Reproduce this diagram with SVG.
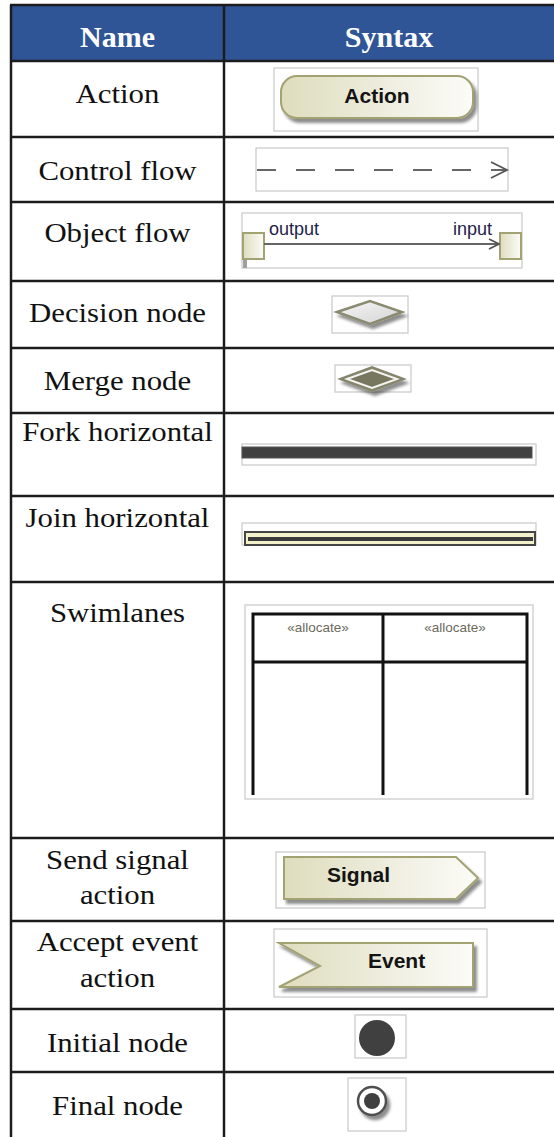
<svg xmlns="http://www.w3.org/2000/svg" width="554" height="1137" viewBox="0 0 554 1137">
  <defs>
    <linearGradient id="beige" x1="0" y1="0" x2="1" y2="0">
      <stop offset="0" stop-color="#deddbd"/>
      <stop offset="0.6" stop-color="#f0efe2"/>
      <stop offset="1" stop-color="#fcfcf8"/>
    </linearGradient>
    <linearGradient id="grayfill" x1="0" y1="0" x2="1" y2="1">
      <stop offset="0" stop-color="#f6f6f6"/>
      <stop offset="1" stop-color="#d4d4d4"/>
    </linearGradient>
    <filter id="shadow" x="-20%" y="-30%" width="150%" height="180%">
      <feGaussianBlur in="SourceAlpha" stdDeviation="1.6"/>
      <feOffset dx="3" dy="4" result="off"/>
      <feComponentTransfer><feFuncA type="linear" slope="0.45"/></feComponentTransfer>
      <feMerge><feMergeNode/><feMergeNode in="SourceGraphic"/></feMerge>
    </filter>
    <marker id="open" viewBox="0 0 12 12" refX="11" refY="6" markerWidth="12" markerHeight="12" markerUnits="userSpaceOnUse" orient="auto">
      <path d="M1,1 L11,6 L1,11" fill="none" stroke="#555" stroke-width="1.8"/>
    </marker>
  </defs>
  <style>
    .grid { stroke: #1c1c1c; stroke-width: 2.5; fill: none; }
    .head { font-family: "Liberation Serif", "Times New Roman", serif; font-size: 30px; font-weight: bold; fill: #ffffff; text-anchor: middle; }
    .name { font-family: "Liberation Serif", "Times New Roman", serif; font-size: 28px; fill: #111; text-anchor: middle; }
    .frame { fill: #ffffff; stroke: #c9c9c9; stroke-width: 1.2; }
    .elem { font-family: "Liberation Sans", Arial, sans-serif; font-size: 21px; font-weight: bold; fill: #141414; }
    .pinlbl { font-family: "Liberation Sans", Arial, sans-serif; font-size: 18px; fill: #22224a; }
    .lane { font-family: "Liberation Sans", Arial, sans-serif; font-size: 13.5px; fill: #6c6a5c; text-anchor: middle; }
    .olive { stroke: #a3a273; stroke-width: 2; }
  </style>

  <!-- header band -->
  <rect x="11" y="5" width="543" height="56" fill="#2f5597"/>

  <!-- table rules -->
  <g id="table-grid" class="grid">
    <line x1="10" y1="5" x2="554" y2="5"/>
    <line x1="10" y1="61" x2="554" y2="61"/>
    <line x1="10" y1="137" x2="554" y2="137"/>
    <line x1="10" y1="202" x2="554" y2="202"/>
    <line x1="10" y1="281" x2="554" y2="281"/>
    <line x1="10" y1="348" x2="554" y2="348"/>
    <line x1="10" y1="413" x2="554" y2="413"/>
    <line x1="10" y1="496" x2="554" y2="496"/>
    <line x1="10" y1="582" x2="554" y2="582"/>
    <line x1="10" y1="838" x2="554" y2="838"/>
    <line x1="10" y1="921" x2="554" y2="921"/>
    <line x1="10" y1="1009" x2="554" y2="1009"/>
    <line x1="10" y1="1072" x2="554" y2="1072"/>
    <line x1="11" y1="5" x2="11" y2="1137"/>
    <line x1="224" y1="5" x2="224" y2="1137"/>
  </g>

  <!-- column headings -->
  <g id="headings">
    <text class="head" x="117.5" y="47">Name</text>
    <text class="head" x="389" y="47">Syntax</text>
  </g>

  <!-- element names, slightly widened -->
  <g id="names" transform="matrix(1.1,0,0,1,-11.75,0)">
    <text class="name" x="117.5" y="103">Action</text>
    <text class="name" x="117.5" y="180">Control flow</text>
    <text class="name" x="117.5" y="242">Object flow</text>
    <text class="name" x="117.5" y="322">Decision node</text>
    <text class="name" x="117.5" y="390">Merge node</text>
    <text class="name" x="117.5" y="441">Fork horizontal</text>
    <text class="name" x="117.5" y="527">Join horizontal</text>
    <text class="name" x="117.5" y="622">Swimlanes</text>
    <text class="name" x="117.5" y="869">Send signal</text>
    <text class="name" x="117.5" y="904">action</text>
    <text class="name" x="117.5" y="951">Accept event</text>
    <text class="name" x="117.5" y="987">action</text>
    <text class="name" x="117.5" y="1052">Initial node</text>
    <text class="name" x="117.5" y="1115">Final node</text>
  </g>

  <!-- Action -->
  <g id="action">
    <rect class="frame" x="274" y="68" width="204" height="63"/>
    <rect x="281" y="76" width="192" height="42" rx="16" fill="url(#beige)" class="olive" filter="url(#shadow)"/>
    <text class="elem" x="377" y="103" text-anchor="middle">Action</text>
  </g>

  <!-- Control flow -->
  <g id="control-flow">
    <rect class="frame" x="256" y="148" width="252" height="43"/>
  </g>

  <!-- Object flow -->
  <g id="object-flow">
    <rect class="frame" x="242" y="213" width="280" height="55"/>
    <rect x="243" y="258" width="4" height="10" fill="#a0a0a0"/>
    <rect x="243" y="233" width="21" height="26" fill="url(#beige)" class="olive"/>
    <rect x="500" y="233" width="21" height="26" fill="url(#beige)" class="olive"/>
    <text class="pinlbl" x="269" y="235">output</text>
    <text class="pinlbl" x="453" y="235">input</text>
  </g>

  <!-- Decision node -->
  <g id="decision-node">
    <rect class="frame" x="332" y="296" width="76" height="37"/>
    <polygon points="337,312 370,301 402,312 370,324" fill="url(#grayfill)" stroke="#8a8a70" stroke-width="2.5" filter="url(#shadow)"/>
  </g>

  <!-- Merge node -->
  <g id="merge-node">
    <rect class="frame" x="335" y="365" width="76" height="27"/>
    <polygon points="340,379 372,367 404,379 372,391" fill="#86866e" stroke="#86866e" stroke-width="2" filter="url(#shadow)"/>
    <polygon points="347,379 372,370 397,379 372,388" fill="#77775f" stroke="#f4f4f0" stroke-width="2"/>
  </g>

  <!-- Fork horizontal -->
  <g id="fork-horizontal">
    <rect class="frame" x="242" y="444" width="294" height="21"/>
    <rect x="242" y="447" width="290" height="11" fill="#404040" stroke="#555" stroke-width="1"/>
  </g>

  <!-- Join horizontal -->
  <g id="join-horizontal">
    <rect class="frame" x="242" y="523" width="294" height="22"/>
    <rect x="245" y="532" width="290" height="13" fill="#f2f1cc" stroke="#454545" stroke-width="2"/>
    <rect x="248" y="537" width="285" height="4" fill="#3a3a3a"/>
  </g>

  <!-- Swimlanes -->
  <g id="swimlanes">
    <rect class="frame" x="245" y="605" width="288" height="194"/>
    <g stroke="#111" stroke-width="3" fill="none">
      <polyline points="253,795 253,614 527,614 527,795"/>
      <line x1="383" y1="614" x2="383" y2="795"/>
      <line x1="253" y1="662" x2="527" y2="662"/>
    </g>
    <text class="lane" x="318" y="632">«allocate»</text>
    <text class="lane" x="455" y="632">«allocate»</text>
  </g>

  <!-- Send signal action -->
  <g id="send-signal">
    <rect class="frame" x="276" y="852" width="209" height="56"/>
    <polygon points="284,857 456,857 478,878 456,899 284,899" fill="url(#beige)" class="olive" filter="url(#shadow)"/>
    <text class="elem" x="327" y="882">Signal</text>
  </g>

  <!-- Accept event action -->
  <g id="accept-event">
    <rect class="frame" x="274" y="929" width="213" height="68"/>
    <polygon points="279,943 473,943 473,987 279,987 320,966" fill="url(#beige)" class="olive" filter="url(#shadow)"/>
    <text class="elem" x="368" y="968">Event</text>
  </g>

  <!-- Initial node -->
  <g id="initial-node">
    <rect class="frame" x="355" y="1015" width="51" height="43"/>
    <circle cx="377" cy="1038" r="18" fill="#404040"/>
  </g>

  <!-- Final node -->
  <g id="final-node">
    <rect class="frame" x="348" y="1078" width="58" height="53"/>
    <circle cx="372" cy="1101" r="14" fill="#ffffff" stroke="#505050" stroke-width="2.5" filter="url(#shadow)"/>
    <circle cx="372" cy="1101" r="8" fill="#404040"/>
  </g>

  <!-- connectors -->
  <g id="connectors" fill="none" stroke="#666" stroke-width="2">
    <line x1="257" y1="170" x2="506" y2="170" stroke-dasharray="19 20"/>
    <path d="M491,162 L507,170 L491,178" stroke="#555" stroke-width="1.8"/>
    <line x1="264" y1="244" x2="499" y2="244" marker-end="url(#open)"/>
  </g>
</svg>
